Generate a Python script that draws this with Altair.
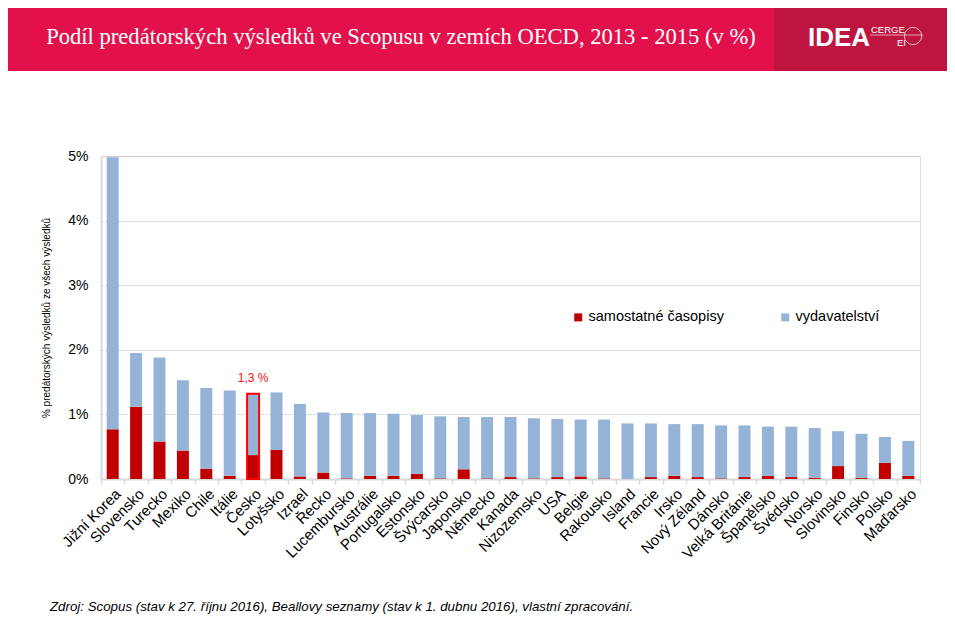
import altair as alt
import pandas as pd

countries = ["Jižní Korea", "Slovensko", "Turecko", "Mexiko", "Chile", "Itálie", "Česko",
             "Lotyšsko", "Izrael", "Řecko", "Lucembursko", "Austrálie", "Portugalsko",
             "Estonsko", "Švýcarsko", "Japonsko", "Německo", "Kanada", "Nizozemsko", "USA",
             "Belgie", "Rakousko", "Island", "Francie", "Irsko", "Nový Zéland", "Dánsko",
             "Velká Británie", "Španělsko", "Švédsko", "Norsko", "Slovinsko", "Finsko",
             "Polsko", "Maďarsko"]
total = [4.98, 1.95, 1.88, 1.53, 1.41, 1.37, 1.32, 1.34, 1.16, 1.03,
         1.02, 1.02, 1.01, 0.99, 0.97, 0.96, 0.96, 0.96, 0.94, 0.93,
         0.92, 0.92, 0.86, 0.86, 0.85, 0.85, 0.83, 0.83, 0.81, 0.81,
         0.79, 0.74, 0.70, 0.65, 0.59]
journals = [0.77, 1.12, 0.58, 0.44, 0.16, 0.05, 0.37, 0.45, 0.04, 0.10,
            0.01, 0.05, 0.05, 0.08, 0.01, 0.15, 0.01, 0.03, 0.01, 0.03,
            0.04, 0.01, 0.00, 0.03, 0.05, 0.03, 0.01, 0.03, 0.05, 0.03,
            0.02, 0.20, 0.02, 0.25, 0.05]
series = ["samostatné časopisy", "vydavatelství"]
series_colors = ["#C00000", "#95B3D7"]
y_ticks = [0, 1, 2, 3, 4, 5]

highlight_country = ["Česko"]
highlight_label = ["1,3 %"]

title_text = ["Podíl predátorských výsledků ve Scopusu v zemích OECD, 2013 - 2015 (v %)"]
y_title = "% predátorských výsledků ze všech výsledků"
source_text = ["Zdroj: Scopus (stav k 27. říjnu 2016), Beallovy seznamy (stav k 1. dubnu 2016), vlastní zpracování."]

rows = []
for c, t, j in zip(countries, total, journals):
    rows.append({"country": c, "series": series[0], "start": 0.0, "end": j})
    rows.append({"country": c, "series": series[1], "start": j, "end": t})
df = pd.DataFrame(rows)

hl = pd.DataFrame({
    "country": highlight_country,
    "total": [total[countries.index(c)] for c in highlight_country],
    "label": highlight_label,
})

W, H = 819, 323
SANS = "Liberation Sans, Arial, sans-serif"

x_enc = alt.X("country:N", sort=countries,
              scale=alt.Scale(paddingInner=0, paddingOuter=0),
              axis=alt.Axis(title=None, labelAngle=-45, labelFontSize=15,
                            labelColor="#000000", labelFont=SANS,
                            tickBand="extent", tickSize=5, tickColor="#D9D9D9",
                            tickWidth=1.5, domainColor="#D9D9D9", domainWidth=2,
                            labelPadding=2, labelOverlap=False, grid=False))

bars = alt.Chart(df).mark_bar(size=12).encode(
    x=x_enc,
    y=alt.Y("start:Q",
            scale=alt.Scale(domain=[0, 5], nice=False),
            axis=alt.Axis(values=y_ticks, labelExpr="datum.value + '%'",
                          grid=True, gridDash=[2, 2], gridColor="#BFBFBF",
                          gridWidth=1, tickSize=0, domainColor="#D9D9D9",
                          domainWidth=2, labelFontSize=14, labelColor="#000000",
                          labelFont=SANS, labelPadding=13,
                          title=y_title, titleFontSize=10,
                          titleFontWeight="normal", titleFont=SANS,
                          titleColor="#000000", titlePadding=16)),
    y2="end:Q",
    color=alt.Color("series:N",
                    scale=alt.Scale(domain=series, range=series_colors),
                    legend=alt.Legend(title=None, orient="none", legendX=470,
                                      legendY=154, direction="horizontal",
                                      symbolType="square", symbolSize=64,
                                      symbolStrokeWidth=0,
                                      labelFontSize=14.5, labelFont=SANS,
                                      labelColor="#000000", labelOffset=3,
                                      columnPadding=54, padding=0)),
)

outline = alt.Chart(hl).mark_bar(size=12, fillOpacity=0, stroke="#FF0000",
                                 strokeWidth=2).encode(
    x=alt.X("country:N", sort=countries),
    y=alt.Y("total:Q"),
)

annot = alt.Chart(hl).mark_text(color="#FF1010", fontSize=12, dy=-16,
                                font=SANS).encode(
    x=alt.X("country:N", sort=countries),
    y=alt.Y("total:Q"),
    text="label:N",
)

one = pd.DataFrame({"k": [0]})

band = alt.Chart(one).mark_rect(color="#E2114C").encode(
    x=alt.value(-93), x2=alt.value(W + 27), y=alt.value(-148), y2=alt.value(-85))
logo_band = alt.Chart(one).mark_rect(color="#BE1540").encode(
    x=alt.value(673), x2=alt.value(W + 27), y=alt.value(-148), y2=alt.value(-85))

title = alt.Chart(pd.DataFrame({"t": title_text})).mark_text(
    color="#FFFFFF", font="Liberation Serif", fontSize=22.6, align="center",
    baseline="middle").encode(x=alt.value(300), y=alt.value(-119), text="t:N")

logo_idea = alt.Chart(pd.DataFrame({"t": ["IDEA"]})).mark_text(
    color="#FFFFFF", font=SANS, fontWeight="bold", fontSize=26,
    align="left", baseline="alphabetic").encode(
    x=alt.value(707), y=alt.value(-110), text="t:N")
logo_cerge = alt.Chart(pd.DataFrame({"t": ["CERGE"]})).mark_text(
    color="#FFFFFF", font=SANS, fontSize=9.5,
    align="left", baseline="alphabetic").encode(
    x=alt.value(770), y=alt.value(-123.5), text="t:N")
logo_ei = alt.Chart(pd.DataFrame({"t": ["EI"]})).mark_text(
    color="#FFFFFF", font=SANS, fontSize=9.5,
    align="left", baseline="alphabetic").encode(
    x=alt.value(796), y=alt.value(-110), text="t:N")
logo_line = alt.Chart(one).mark_rule(color="#FFFFFF", strokeWidth=1, opacity=0.6).encode(
    x=alt.value(769), x2=alt.value(822), y=alt.value(-121))
logo_globe = alt.Chart(one).mark_point(shape="circle", size=300, filled=False,
                                       color="#FFFFFF", strokeWidth=1, opacity=0.7).encode(
    x=alt.value(812), y=alt.value(-120))

source = alt.Chart(pd.DataFrame({"t": source_text})).mark_text(
    color="#000000", font=SANS, fontStyle="italic", fontSize=13.3,
    align="left", baseline="middle").encode(
    x=alt.value(-51), y=alt.value(451), text="t:N")

chart = alt.layer(
    band, logo_band, title, logo_idea, logo_cerge, logo_ei, logo_line, logo_globe,
    bars, outline, annot, source
).properties(
    width=W, height=H,
    autosize=alt.AutoSizeParams(type="none"),
    padding={"left": 93, "top": 148, "right": 27, "bottom": 148},
).configure_view(stroke=None).configure(background="#FFFFFF")

chart.save("out.html", embed_options={"renderer": "svg", "actions": False})
